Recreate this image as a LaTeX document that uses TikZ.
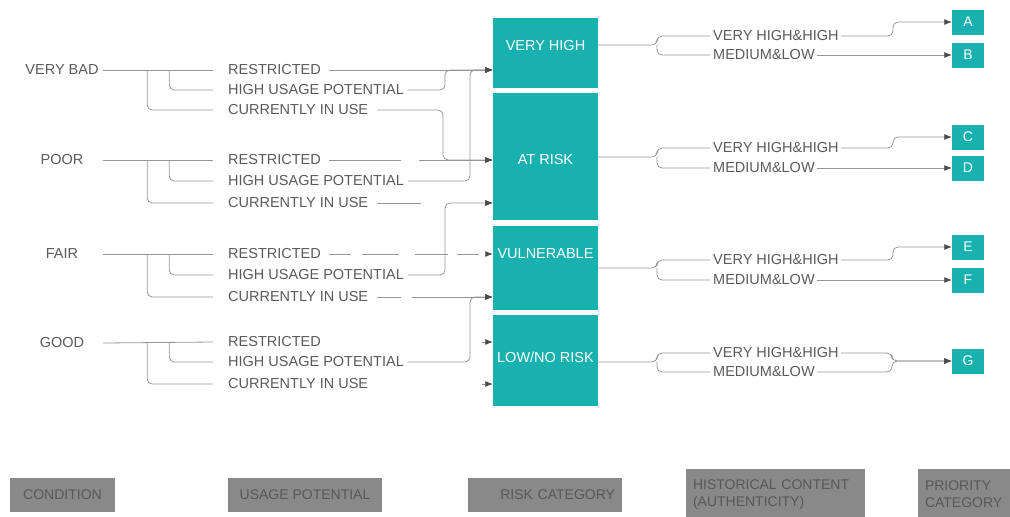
\documentclass[tikz,border=0pt]{standalone}
\usepackage{fontspec}
\setmainfont{Liberation Sans}
\usetikzlibrary{arrows.meta}
\definecolor{riskteal}{RGB}{24,177,175}
\definecolor{linegrey}{RGB}{150,150,150}
\definecolor{arrowgrey}{RGB}{75,75,75}
\definecolor{txtgrey}{RGB}{90,90,90}
\definecolor{legfill}{RGB}{137,137,137}
\definecolor{legtxt}{RGB}{88,88,88}
\tikzset{
	lbl/.style={font=\fontsize{14.5}{17}\selectfont, text=txtgrey, inner sep=0pt},
	cond/.style={lbl, minimum width=82pt},
	use/.style={lbl, anchor=west},
	risk/.style={fill=riskteal, minimum width=105pt, inner sep=0pt},
	risktext/.style={font=\fontsize{14.5}{17}\selectfont, text=white, inner sep=0pt},
	prio/.style={fill=riskteal, text=white, font=\fontsize{14}{16}\selectfont, minimum width=32pt, minimum height=25pt, inner sep=0pt},
	legend/.style={fill=legfill, text=legtxt, font=\fontsize{14}{17}\selectfont, minimum height=34pt, inner xsep=7pt},
	link/.style={draw=linegrey, line width=0.8pt, rounded corners=5pt},
	conn/.style={link, -{Latex[length=7.5pt,width=6pt,color=arrowgrey]}}
}
\begin{document}
\begin{tikzpicture}[x=1pt,y=-1pt]
			\useasboundingbox (0,0) rectangle (1010,517);
			% condition
			\node[cond] (vbad) at (62,70) {VERY BAD};
			\node[cond] (poor) at (62,160) {POOR};
			\node[cond] (fair) at (62,254) {FAIR};
			\node[cond] (good) at (62,343) {GOOD};
			% usage potential
			\node[use] (res1) at (228,70) {RESTRICTED};
			\node[use] (hig1) at (228,90) {HIGH USAGE POTENTIAL};
			\node[use] (cur1) at (228,110) {CURRENTLY IN USE};
			\node[use] (res2) at (228,160) {RESTRICTED};
			\node[use] (hig2) at (228,181) {HIGH USAGE POTENTIAL};
			\node[use] (cur2) at (228,203) {CURRENTLY IN USE};
			\node[use] (res3) at (228,254) {RESTRICTED};
			\node[use] (hig3) at (228,275) {HIGH USAGE POTENTIAL};
			\node[use] (cur3) at (228,297) {CURRENTLY IN USE};
			\node[use] (res4) at (228,342) {RESTRICTED};
			\node[use] (hig4) at (228,362) {HIGH USAGE POTENTIAL};
			\node[use] (cur4) at (228,384) {CURRENTLY IN USE};
			\draw[link] (vbad.east) -- ([xshift=-15pt]res1.west);
			\draw[link] ([xshift=44pt]vbad.east) |- ([xshift=-15pt]cur1.west);
			\draw[link] ([xshift=66pt]vbad.east) |- ([xshift=-15pt]hig1.west);
			\draw[link] (poor.east) -- ([xshift=-15pt]res2.west);
			\draw[link] ([xshift=44pt]poor.east) |- ([xshift=-15pt]cur2.west);
			\draw[link] ([xshift=66pt]poor.east) |- ([xshift=-15pt]hig2.west);
			\draw[link] (fair.east) -- ([xshift=-15pt]res3.west);
			\draw[link] ([xshift=44pt]fair.east) |- ([xshift=-15pt]cur3.west);
			\draw[link] ([xshift=66pt]fair.east) |- ([xshift=-15pt]hig3.west);
			\draw[link] (good.east) -- ([xshift=-15pt]res4.west);
			\draw[link] ([xshift=44pt]good.east) |- ([xshift=-15pt]cur4.west);
			\draw[link] ([xshift=66pt]good.east) |- ([xshift=-15pt]hig4.west);
			% risk category
			\node[risk, minimum height=70pt] (vhigh) at (545.5,53) {};
			\node[risk, minimum height=127pt] (atrisk) at (545.5,156.5) {};
			\node[risk, minimum height=84pt] (vuln) at (545.5,268) {};
			\node[risk, minimum height=91pt] (lowrisk) at (545.5,360.5) {};
			\node[risktext] (vhightxt) at (545.5,46) {VERY HIGH};
			\node[risktext] (atrisktxt) at (545.5,160) {AT RISK};
			\node[risktext] (vulntxt) at (545.5,254) {VULNERABLE};
			\node[risktext] (lowrisktxt) at (545.5,357) {LOW/NO RISK};
			\draw[conn] ([xshift=8pt]res1.east) -- (vhigh.west |- res1);
			\draw[conn] ([xshift=4pt]hig1.east) -| (445,70) -- (vhigh.west |- res1);
			\draw[conn] ([xshift=4pt]hig2.east) -| (470,70) -- (vhigh.west |- res1);
			\draw[conn] ([xshift=9pt]cur1.east) -| (443,160) -- (atrisk.west |- res2);
			\draw[conn, dash pattern=on 72pt off 18pt on 200pt] ([xshift=8pt]res2.east) -- (atrisk.west |- res2);
			\draw[conn, dash pattern=on 44pt off 200pt] ([xshift=9pt]cur2.east) -- (atrisk.west |- cur2);
			\draw[conn] ([xshift=4pt]hig3.east) -| (445,203) -- (atrisk.west |- cur2);
			\draw[conn, dash pattern=on 22pt off 11pt on 37pt off 16pt on 33pt off 9pt] ([xshift=8pt]res3.east) -- (vuln.west |- res3);
			\draw[conn, dash pattern=on 24pt off 11pt on 200pt] ([xshift=9pt]cur3.east) -- (vuln.west |- cur3);
			\draw[conn] ([xshift=4pt]hig4.east) -| (470,297) -- (vuln.west |- cur3);
			\coordinate (stub1) at (482,342);
			\coordinate (stub2) at (482,384);
			\draw[conn] (stub1) -- (lowrisk.west |- stub1);
			\draw[conn] (stub2) -- (lowrisk.west |- stub2);
			% historical content
			\node[use] (vhh1) at (713,36) {VERY HIGH\&HIGH};
			\node[use] (mel1) at (713,55) {MEDIUM\&LOW};
			\node[use] (vhh2) at (713,148) {VERY HIGH\&HIGH};
			\node[use] (mel2) at (713,168) {MEDIUM\&LOW};
			\node[use] (vhh3) at (713,260) {VERY HIGH\&HIGH};
			\node[use] (mel3) at (713,280) {MEDIUM\&LOW};
			\node[use] (vhh4) at (713,353) {VERY HIGH\&HIGH};
			\node[use] (mel4) at (713,372) {MEDIUM\&LOW};
			\coordinate (sp1) at (657,45);
			\coordinate (sp2) at (657,157);
			\coordinate (sp3) at (657,268);
			\coordinate (sp4) at (657,362);
			\draw[link] (vhigh.east |- sp1) -- (sp1) |- ([xshift=-3pt]vhh1.west);
			\draw[link] (sp1) |- ([xshift=-3pt]mel1.west);
			\draw[link] (atrisk.east |- sp2) -- (sp2) |- ([xshift=-3pt]vhh2.west);
			\draw[link] (sp2) |- ([xshift=-3pt]mel2.west);
			\draw[link] (vuln.east |- sp3) -- (sp3) |- ([xshift=-3pt]vhh3.west);
			\draw[link] (sp3) |- ([xshift=-3pt]mel3.west);
			\draw[link] (lowrisk.east |- sp4) -- (sp4) |- ([xshift=-3pt]vhh4.west);
			\draw[link] (sp4) |- ([xshift=-3pt]mel4.west);
			% priority category
			\node[prio] (pa) at (968,22) {A};
			\node[prio] (pb) at (968,55) {B};
			\node[prio] (pc) at (968,137) {C};
			\node[prio] (pd) at (968,168) {D};
			\node[prio] (pe) at (968,247) {E};
			\node[prio] (pf) at (968,280) {F};
			\node[prio] (pg) at (968,361) {G};
			\draw[conn] ([xshift=2pt]vhh1.east) -| (893,22) -- (pa.west);
			\draw[conn] ([xshift=2pt]mel1.east) -- (pb.west);
			\draw[conn] ([xshift=2pt]vhh2.east) -| (893,137) -- (pc.west);
			\draw[conn] ([xshift=2pt]mel2.east) -- (pd.west);
			\draw[conn] ([xshift=2pt]vhh3.east) -| (893,247) -- (pe.west);
			\draw[conn] ([xshift=2pt]mel3.east) -- (pf.west);
			\coordinate (gj) at (892,361);
			\draw[conn] ([xshift=2pt]vhh4.east) -| (gj) -- (pg.west);
			\draw[conn] ([xshift=2pt]mel4.east) -| (gj) -- (pg.west);
			% legend
			\node[legend, minimum width=105pt] (lcond) at (62.5,495) {CONDITION};
			\node[legend, minimum width=154pt] (luse) at (305,495) {USAGE POTENTIAL};
			\node[legend, minimum width=154pt, text width=140pt, align=right] (lrisk) at (545,495) {RISK CATEGORY};
			\node[legend, minimum width=179pt, minimum height=51pt, text width=165pt, align=left] (lhist) at (775.5,494.5) {HISTORICAL CONTENT\\(AUTHENTICITY)};
			\node[legend, minimum width=110pt, minimum height=51pt, text width=96pt, align=left] (lprio) at (973,494.5) {PRIORITY\\CATEGORY};
		\end{tikzpicture}
\end{document}
